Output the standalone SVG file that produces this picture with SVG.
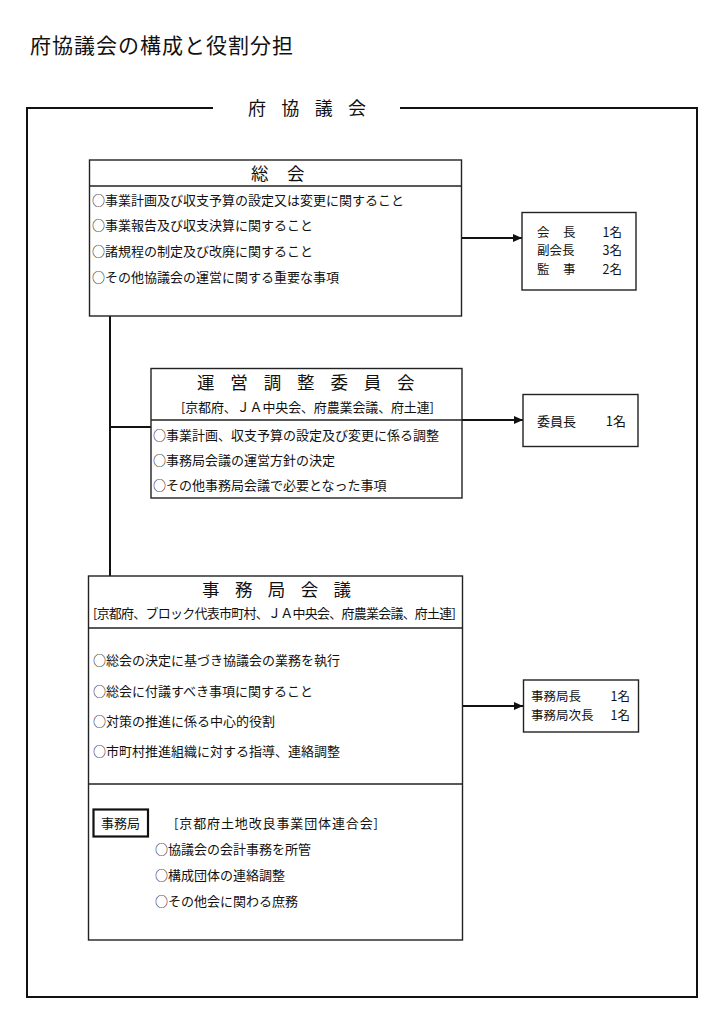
<svg xmlns="http://www.w3.org/2000/svg" width="724" height="1024" viewBox="0 0 724 1024">
<style>
text{font-family:"Noto Sans CJK JP","Noto Sans CJK SC",sans-serif;fill:#111}
.t{font-size:13px}
.o{font-size:12.5px}
.h{font-size:17.5px}
.box{fill:#fff;stroke:#222;stroke-width:1.4}
.div{stroke:#222;stroke-width:1.4}
.con{stroke:#111;stroke-width:2;fill:none}
</style>
<defs>
<marker id="ah" markerUnits="userSpaceOnUse" markerWidth="9" markerHeight="8" refX="9" refY="4" orient="auto">
<path d="M0,0 L9,4 L0,8 z" fill="#111"/>
</marker>
</defs>
<rect width="724" height="1024" fill="#fff"/>
<text x="30" y="53" font-size="21" textLength="263" lengthAdjust="spacing">府協議会の構成と役割分担</text>

<g id="frame">
<path d="M213 108 H27 V997 H697 V108 H400" class="con"/>
<text x="248 281.3 314.7 348" y="115" font-size="18">府協議会</text>
</g>

<g id="connectors">
<line x1="110" y1="316" x2="110" y2="576" class="con"/>
<line x1="110" y1="427" x2="151" y2="427" class="con"/>
<line x1="462" y1="238" x2="522" y2="238" class="con" marker-end="url(#ah)"/>
<line x1="462" y1="420" x2="523" y2="420" class="con" marker-end="url(#ah)"/>
<line x1="462" y1="706" x2="523" y2="706" class="con" marker-end="url(#ah)"/>
</g>

<g id="soukai">
<rect x="89.5" y="160" width="372" height="156" class="box"/>
<line x1="89.5" y1="186" x2="461.5" y2="186" class="div"/>
<text class="h" x="251 287" y="180">総会</text>
<text class="t" x="92" y="204.5">○事業計画及び収支予算の設定又は変更に関すること</text>
<text class="t" x="92" y="230">○事業報告及び収支決算に関すること</text>
<text class="t" x="92" y="256">○諸規程の制定及び改廃に関すること</text>
<text class="t" x="92" y="281.5">○その他協議会の運営に関する重要な事項</text>
</g>

<g id="soukai-officers">
<rect x="522" y="212.5" width="114" height="77.5" class="box"/>
<text class="o" x="537 563" y="237">会長</text><text class="o" x="622" y="237" text-anchor="end">1名</text>
<text class="o" x="537" y="255.4">副会長</text><text class="o" x="622" y="255.4" text-anchor="end">3名</text>
<text class="o" x="537 563" y="273.7">監事</text><text class="o" x="622" y="273.7" text-anchor="end">2名</text>
</g>

<g id="unei">
<rect x="151" y="368.5" width="311" height="129.5" class="box"/>
<line x1="151" y1="420" x2="462" y2="420" class="div"/>
<text class="h" x="197 230.35 263.7 297.05 330.4 363.75 397.1" y="389">運営調整委員会</text>
<text class="t" x="181" y="412" textLength="253" lengthAdjust="spacing">[京都府、ＪＡ中央会、府農業会議、府土連]</text>
<text class="t" x="153" y="439.5">○事業計画、収支予算の設定及び変更に係る調整</text>
<text class="t" x="153" y="464.5">○事務局会議の運営方針の決定</text>
<text class="t" x="153" y="490">○その他事務局会議で必要となった事項</text>
</g>

<g id="unei-officers">
<rect x="523" y="394.5" width="115" height="52" class="box"/>
<text class="t" x="537" y="425.5">委員長</text>
<text class="t" x="626" y="425.5" text-anchor="end">1名</text>
</g>

<g id="jimukyoku-kaigi">
<rect x="88.5" y="576" width="374" height="364" class="box"/>
<line x1="88.5" y1="628" x2="462.5" y2="628" class="div"/>
<line x1="88.5" y1="784" x2="462.5" y2="784" class="div"/>
<text class="h" x="202 234.9 267.8 300.7 333.6" y="596">事務局会議</text>
<text class="t" x="93" y="617.5" textLength="363" lengthAdjust="spacing">[京都府、ブロック代表市町村、ＪＡ中央会、府農業会議、府土連]</text>
<text class="t" x="93" y="664.5">○総会の決定に基づき協議会の業務を執行</text>
<text class="t" x="93" y="695.5">○総会に付議すべき事項に関すること</text>
<text class="t" x="93" y="725.5">○対策の推進に係る中心的役割</text>
<text class="t" x="93" y="756">○市町村推進組織に対する指導、連絡調整</text>
</g>

<g id="jimukyoku">
<rect x="93.5" y="809.5" width="54.5" height="27" fill="#fff" stroke="#111" stroke-width="2.2"/>
<text class="t" x="101" y="827.5">事務局</text>
<text class="t" x="174" y="827.5" textLength="204" lengthAdjust="spacing">[京都府土地改良事業団体連合会]</text>
<text class="t" x="155" y="853.5">○協議会の会計事務を所管</text>
<text class="t" x="155" y="880">○構成団体の連絡調整</text>
<text class="t" x="155" y="906">○その他会に関わる庶務</text>
</g>

<g id="jimukyoku-officers">
<rect x="523.5" y="680" width="115" height="52" class="box"/>
<text class="o" x="531" y="701.4">事務局長</text><text class="o" x="630" y="701.4" text-anchor="end">1名</text>
<text class="o" x="531" y="719.7">事務局次長</text><text class="o" x="630" y="719.7" text-anchor="end">1名</text>
</g>
</svg>
